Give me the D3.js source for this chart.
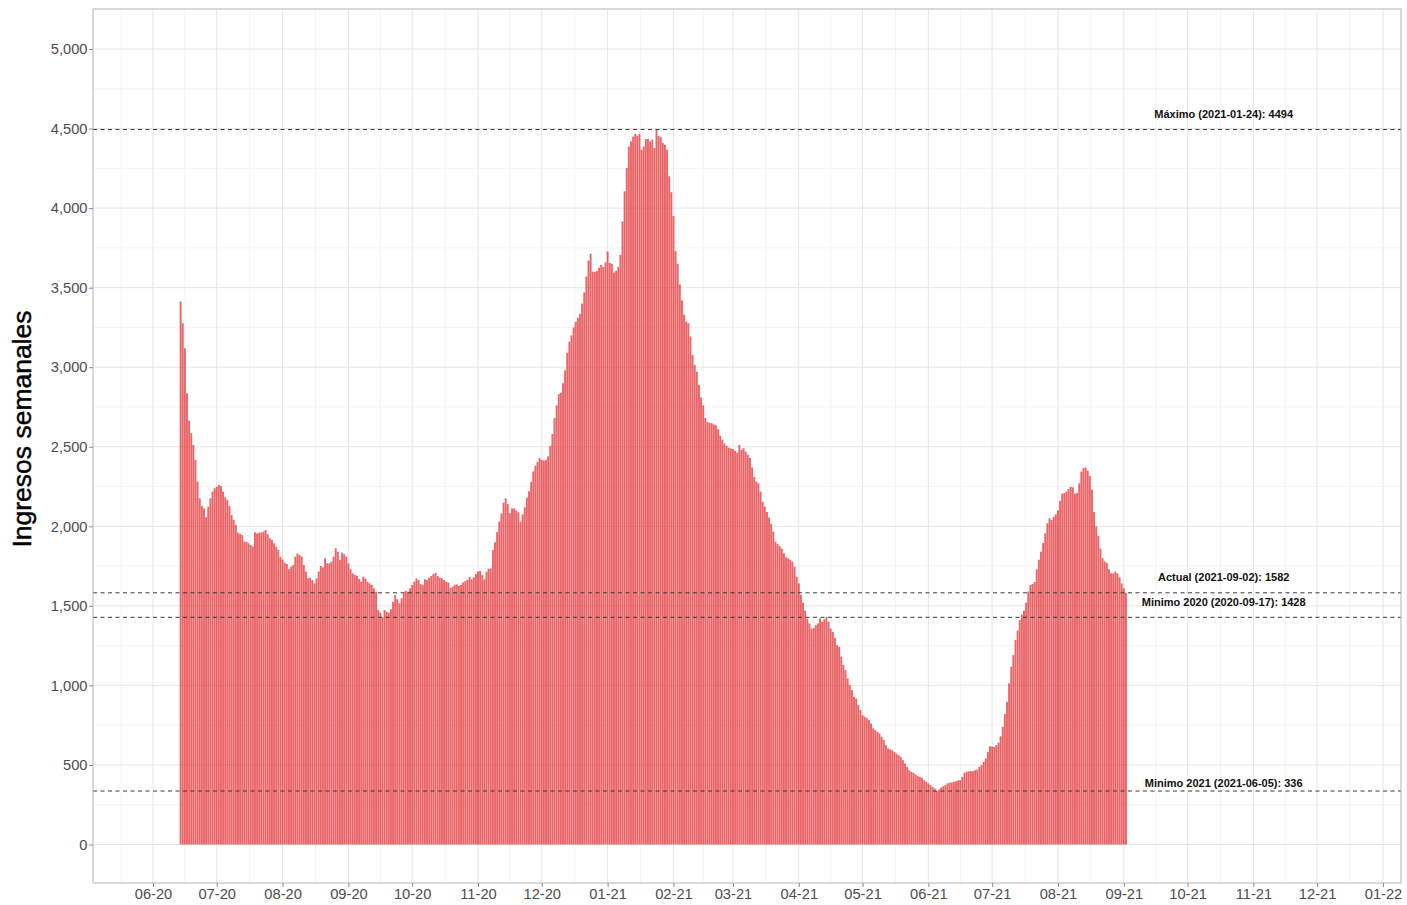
<!DOCTYPE html>
<html>
<head>
<meta charset="utf-8">
<script src="https://cdn.jsdelivr.net/npm/d3@7"></script>
<style>
  body { margin: 0; background: #fff; }
  svg { display: block; font-family: 'Liberation Sans', Arial, Helvetica, sans-serif; }
</style>
</head>
<body>
<div id="chart"></div>
<script>
// one value per day, starting at fechaInicio
const fechaInicio = '2020-06-14';

const ingresos = [
  3413, 3277, 3119, 2836, 2664, 2585, 2511, 2417, 2281, 2176, 2128, 2113, 2057, 2123, 2176, 2218, 2239, 2249, 2260,
  2253, 2218, 2182, 2165, 2128, 2071, 2040, 2008, 1960, 1952, 1945, 1903, 1903, 1893, 1882, 1872,
  1962, 1956, 1960, 1962, 1966, 1977, 1950, 1925, 1914, 1893, 1872, 1851, 1809, 1792, 1771, 1763,
  1730, 1746, 1757, 1809, 1830, 1819, 1809, 1757, 1715, 1673, 1677, 1662, 1641, 1673, 1715, 1750,
  1742, 1799, 1767, 1767, 1778, 1809, 1862, 1840, 1788, 1834, 1824, 1809, 1767, 1730, 1704, 1694,
  1688, 1669, 1652, 1683, 1673, 1652, 1641, 1631, 1610, 1589, 1474, 1457, 1428, 1474, 1463, 1457,
  1478, 1526, 1568, 1541, 1516, 1547, 1579, 1595, 1589, 1610, 1631, 1652, 1673, 1662, 1637, 1631,
  1667, 1662, 1677, 1688, 1700, 1708, 1688, 1677, 1673, 1662, 1652, 1646,
  // noviembre
  1612, 1620, 1632, 1635, 1626, 1632, 1648, 1655, 1665, 1683, 1667, 1679, 1700, 1715, 1719, 1694,
  1667, 1715, 1733, 1735, 1851, 1900, 1965, 2030, 2080, 2148, 2176, 2140, 2082, 2113, 2112, 2100,
  2088, 2029, 2075, 2120, 2180, 2220, 2280, 2345, 2380, 2405, 2428, 2417, 2413, 2417, 2440, 2505,
  2580, 2680, 2760, 2830,
  // diciembre - febrero
  2840, 2900, 2980, 3090, 3160, 3200, 3250, 3285, 3310, 3335,
  3400, 3470, 3570, 3670, 3713, 3601, 3600, 3605, 3625, 3643,
  3630, 3660, 3727, 3655, 3650, 3595, 3605, 3630, 3706, 3916,
  4105, 4252, 4387, 4419, 4450, 4467, 4455, 4467, 4367, 4387,
  4434, 4434, 4419, 4430, 4377, 4494, 4455, 4446, 4409, 4398,
  4367, 4200, 4100, 3950, 3730, 3650, 3520, 3420, 3330, 3287,
  3277, 3192, 3077, 3014, 2972, 2889, 2810, 2760, 2680, 2655,
  2650, 2648, 2640, 2635, 2610, 2570,
  // marzo - junio
  2545, 2520, 2505, 2495, 2490, 2485, 2475, 2463, 2511, 2480,
  2491, 2470, 2450, 2430, 2370, 2310, 2281, 2270, 2218, 2155,
  2123, 2090, 2055, 2015, 1966, 1903, 1890, 1875, 1860, 1830,
  1805, 1799, 1790, 1777, 1746, 1683, 1641, 1570, 1520, 1470,
  1420, 1390, 1358, 1360, 1379, 1390, 1421, 1400, 1415, 1431,
  1400, 1358, 1337, 1300, 1253, 1243, 1180, 1128, 1096, 1044,
  1002, 971, 929, 918, 876, 845, 813, 803, 795, 782,
  761, 730, 719, 708, 698, 677, 656, 625, 604, 598,
  593, 582, 572, 562, 551, 530, 509, 488, 467, 457,
  450, 440, 430, 425, 419, 404, 394, 384, 373, 362,
  352, 336, 346, 358, 367, 373, 384, 388, 390, 394,
  397, 404, 404, 425, 450, 457, 460, 462, 460, 467,
  470, 488, 499, 520, 541, 582, 618, 614, 614,
  // julio - septiembre
  625, 640, 680, 740, 820, 897, 1013, 1117, 1190, 1285,
  1345, 1410, 1445, 1470, 1520, 1590, 1630, 1637, 1650, 1730,
  1790, 1840, 1895, 1956, 2019, 2050, 2040, 2060, 2075, 2100,
  2160, 2205, 2210, 2220, 2235, 2249, 2245, 2205, 2210, 2270,
  2344, 2365, 2371, 2350, 2316, 2230, 2090, 2000, 1940, 1860,
  1800, 1780, 1770, 1730, 1705, 1704, 1715, 1704, 1679, 1641,
  1610, 1582
];

const refValores = [4494, 1582, 1428, 336];
const refEtiquetas = [
  'Máximo (2021-01-24): 4494',
  'Actual (2021-09-02): 1582',
  'Minimo 2020 (2020-09-17): 1428',
  'Minimo 2021 (2021-06-05): 336'
];

const yTicks = [0, 500, 1000, 1500, 2000, 2500, 3000, 3500, 4000, 4500, 5000];
const xTicks = [
  '2020-06-01', '2020-07-01', '2020-08-01', '2020-09-01', '2020-10-01', '2020-11-01',
  '2020-12-01', '2021-01-01', '2021-02-01', '2021-03-01', '2021-04-01', '2021-05-01',
  '2021-06-01', '2021-07-01', '2021-08-01', '2021-09-01', '2021-10-01', '2021-11-01',
  '2021-12-01', '2022-01-01'
];

const width = 1407;
const height = 905;
const panel = {left: 93, right: 1401, top: 9, bottom: 883};
const labelDate = '2021-10-18';
const labelDy = [-12, -12, -11, -4];

const parse = d3.utcParse('%Y-%m-%d');
const start = parse(fechaInicio);
const data = ingresos.map((v, i) => ({date: d3.utcDay.offset(start, i), value: v}));
const tickDates = xTicks.map(parse);

const x = d3.scaleUtc()
    .domain([tickDates[0], tickDates[tickDates.length - 1]])
    .range([153, 1383]);

const y = d3.scaleLinear()
    .domain([0, 5000])
    .range([844.5, 49]);

const svg = d3.select('#chart')
  .append('svg')
    .attr('width', width)
    .attr('height', height);

svg.append('rect')
    .attr('width', width)
    .attr('height', height)
    .attr('fill', '#fff');

// grid
const yMinor = d3.pairs(yTicks).map(([a, b]) => (a + b) / 2);
const xMinor = d3.pairs(tickDates).map(([a, b]) => new Date((+a + +b) / 2));
xMinor.unshift(new Date(+tickDates[0] - (tickDates[1] - tickDates[0]) / 2));

const grid = svg.append('g').attr('class', 'grid');

grid.selectAll('.y-minor')
  .data(yMinor)
  .join('line')
    .attr('class', 'y-minor')
    .attr('x1', panel.left).attr('x2', panel.right)
    .attr('y1', d => y(d)).attr('y2', d => y(d))
    .attr('stroke', '#f1f1f1')
    .attr('stroke-width', 0.8);

grid.selectAll('.x-minor')
  .data(xMinor.filter(d => x(d) > panel.left && x(d) < panel.right))
  .join('line')
    .attr('class', 'x-minor')
    .attr('x1', d => x(d)).attr('x2', d => x(d))
    .attr('y1', panel.top).attr('y2', panel.bottom)
    .attr('stroke', '#f1f1f1')
    .attr('stroke-width', 0.8);

grid.selectAll('.y-major')
  .data(yTicks)
  .join('line')
    .attr('class', 'y-major')
    .attr('x1', panel.left).attr('x2', panel.right)
    .attr('y1', d => y(d)).attr('y2', d => y(d))
    .attr('stroke', '#e6e6e6')
    .attr('stroke-width', 1);

grid.selectAll('.x-major')
  .data(tickDates)
  .join('line')
    .attr('class', 'x-major')
    .attr('x1', d => x(d)).attr('x2', d => x(d))
    .attr('y1', panel.top).attr('y2', panel.bottom)
    .attr('stroke', '#e6e6e6')
    .attr('stroke-width', 1);

// bars
const dayW = x(d3.utcDay.offset(start, 1)) - x(start);
const barW = dayW * 0.9;

svg.append('g')
    .attr('class', 'bars')
  .selectAll('rect')
  .data(data)
  .join('rect')
    .attr('x', d => x(d.date) - barW / 2)
    .attr('width', barW)
    .attr('y', d => y(d.value))
    .attr('height', d => y(0) - y(d.value))
    .attr('fill', '#e0292c')
    .attr('fill-opacity', 0.72);

// reference lines
const refs = refValores.map((v, i) => ({value: v, label: refEtiquetas[i], dy: labelDy[i]}));

const refG = svg.append('g').attr('class', 'refs');

refG.selectAll('line')
  .data(refs)
  .join('line')
    .attr('x1', panel.left).attr('x2', panel.right)
    .attr('y1', d => y(d.value)).attr('y2', d => y(d.value))
    .attr('stroke', '#3a3a3a')
    .attr('stroke-width', 1)
    .attr('stroke-dasharray', '4,3.5');

refG.selectAll('text')
  .data(refs)
  .join('text')
    .attr('x', x(parse(labelDate)))
    .attr('y', d => y(d.value) + d.dy)
    .attr('text-anchor', 'middle')
    .attr('font-size', '11px')
    .attr('font-weight', 'bold')
    .attr('fill', '#111')
    .text(d => d.label);

// panel border
svg.append('rect')
    .attr('x', panel.left)
    .attr('y', panel.top)
    .attr('width', panel.right - panel.left)
    .attr('height', panel.bottom - panel.top)
    .attr('fill', 'none')
    .attr('stroke', '#b3b3b3')
    .attr('stroke-width', 1);

// axes
svg.append('g')
    .attr('class', 'y-axis')
    .attr('transform', `translate(${panel.left},0)`)
    .call(d3.axisLeft(y).tickValues(yTicks).tickFormat(d3.format(',')).tickSize(4).tickPadding(1.5))
    .call(g => g.select('.domain').remove())
    .call(g => g.selectAll('.tick line').attr('stroke', '#8c8c8c'))
    .call(g => g.selectAll('.tick text')
        .attr('fill', '#4d4d4d')
        .attr('font-size', '14.7px')
        .attr('font-family', null));

svg.append('g')
    .attr('class', 'x-axis')
    .attr('transform', `translate(0,${panel.bottom})`)
    .call(d3.axisBottom(x).tickValues(tickDates).tickFormat(d3.utcFormat('%m-%y')).tickSize(4).tickPadding(1.5))
    .call(g => g.select('.domain').remove())
    .call(g => g.selectAll('.tick line').attr('stroke', '#8c8c8c'))
    .call(g => g.selectAll('.tick text')
        .attr('fill', '#4d4d4d')
        .attr('font-size', '14.7px')
        .attr('font-family', null));

svg.append('text')
    .attr('transform', `translate(31,${(panel.top + panel.bottom) / 2 - 17}) rotate(-90)`)
    .attr('text-anchor', 'middle')
    .attr('font-size', '26.5px')
    .attr('fill', '#000')
    .attr('stroke', '#000')
    .attr('stroke-width', 0.45)
    .text('Ingresos semanales');
</script>
</body>
</html>
